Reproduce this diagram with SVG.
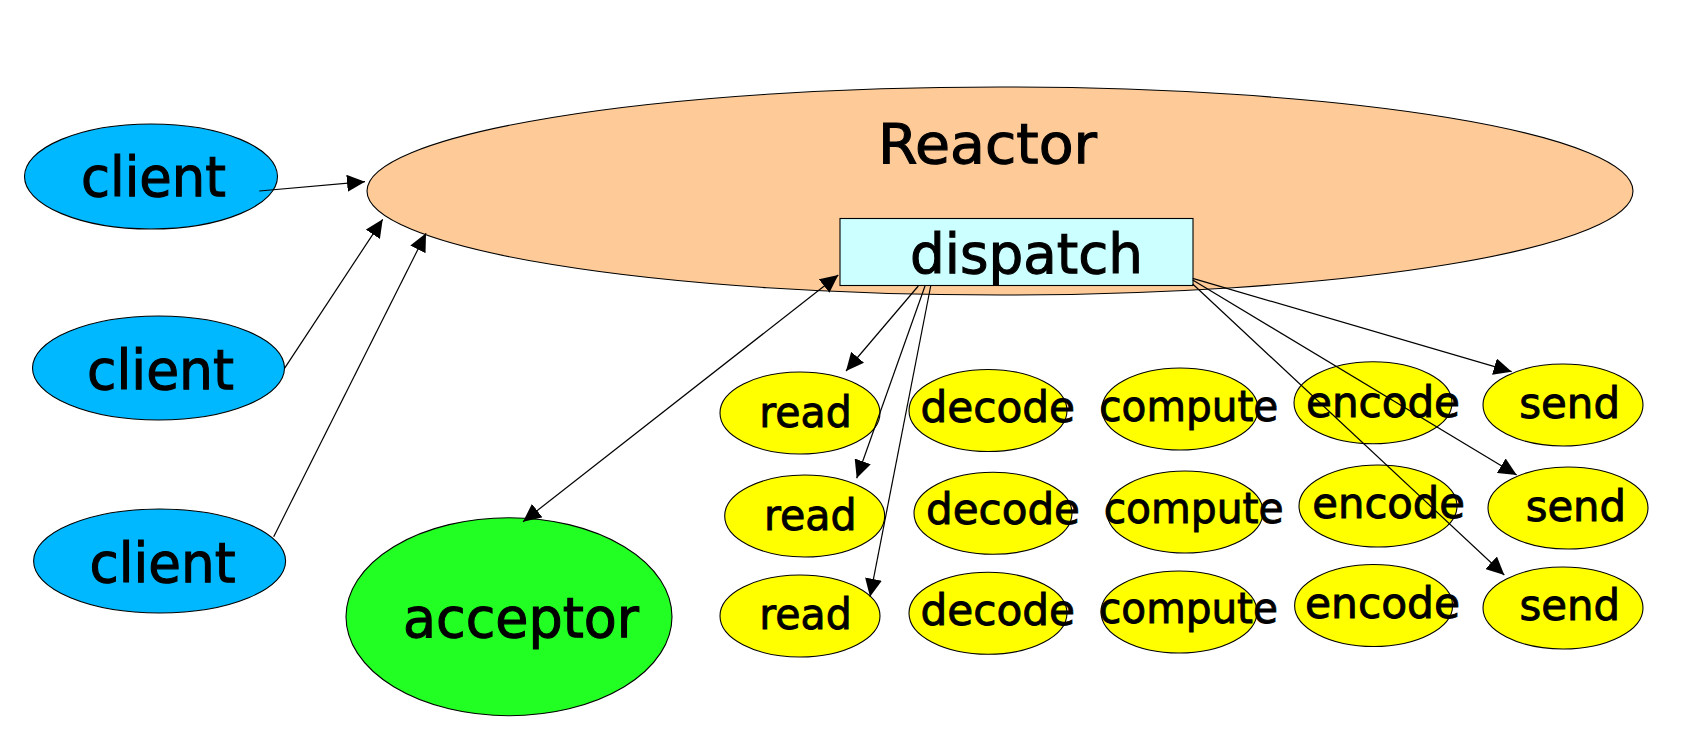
<svg xmlns="http://www.w3.org/2000/svg" width="1700" height="754" viewBox="0 0 1700 754">
<style>
.n{stroke:#000;stroke-width:1.1}
.client{fill:#00b8ff}
.reactor{fill:#fdca98}
.disp{fill:#ccffff}
.acc{fill:#22ff22}
.y{fill:#ffff00}
text{font-family:"DejaVu Sans","Liberation Sans",sans-serif;fill:#000;stroke:#000}
.big{font-size:56px;stroke-width:1.1}
.sm{font-size:42px;stroke-width:0.9}
.c line{stroke:#000;stroke-width:1.2;fill:none;marker-end:url(#ah)}
</style>
<defs>
<marker id="ah" viewBox="0 0 18 17" refX="18" refY="8.5" markerWidth="18" markerHeight="17" markerUnits="userSpaceOnUse" orient="auto-start-reverse">
<path d="M0,0 L18,8.5 L0,17 Z" fill="#000"/>
</marker>
</defs>
<rect width="1700" height="754" fill="#fff"/>
<g id="reactor">
<ellipse class="n reactor" cx="1000" cy="191" rx="633" ry="104"/>
<text class="big" x="878" y="163" textLength="219" lengthAdjust="spacingAndGlyphs">Reactor</text>
</g>
<g id="dispatch">
<rect class="n disp" x="840" y="218.5" width="353" height="67"/>
<text class="big" x="910" y="273" textLength="233" lengthAdjust="spacingAndGlyphs">dispatch</text>
</g>
<g id="client1">
<ellipse class="n client" cx="151" cy="176.5" rx="126.5" ry="52.5"/>
<text class="big" x="81" y="196" textLength="145" lengthAdjust="spacingAndGlyphs">client</text>
</g>
<g id="client2">
<ellipse class="n client" cx="158.5" cy="368" rx="126" ry="52"/>
<text class="big" x="87" y="389" textLength="147" lengthAdjust="spacingAndGlyphs">client</text>
</g>
<g id="client3">
<ellipse class="n client" cx="159.6" cy="561" rx="126" ry="52"/>
<text class="big" x="89.5" y="582" textLength="146" lengthAdjust="spacingAndGlyphs">client</text>
</g>
<g id="acceptor">
<ellipse class="n acc" cx="509" cy="616.7" rx="163" ry="99"/>
<text class="big" x="403" y="637" textLength="236" lengthAdjust="spacingAndGlyphs">acceptor</text>
</g>
<g id="read1"><ellipse class="n y" cx="800" cy="413" rx="80" ry="41"/><text class="sm" x="759.3" y="426.7" textLength="92.4" lengthAdjust="spacingAndGlyphs">read</text></g>
<g id="read2"><ellipse class="n y" cx="804.7" cy="516" rx="80" ry="41"/><text class="sm" x="764" y="530" textLength="92.7" lengthAdjust="spacingAndGlyphs">read</text></g>
<g id="read3"><ellipse class="n y" cx="800" cy="616" rx="80" ry="41"/><text class="sm" x="759.3" y="629.3" textLength="92.4" lengthAdjust="spacingAndGlyphs">read</text></g>
<g id="decode1"><ellipse class="n y" cx="988" cy="410.5" rx="79" ry="41"/><text class="sm" x="920.5" y="421.7" textLength="154.5" lengthAdjust="spacingAndGlyphs">decode</text></g>
<g id="decode2"><ellipse class="n y" cx="993" cy="513.3" rx="79" ry="41"/><text class="sm" x="926" y="524" textLength="154" lengthAdjust="spacingAndGlyphs">decode</text></g>
<g id="decode3"><ellipse class="n y" cx="988" cy="613.3" rx="79" ry="41"/><text class="sm" x="920.5" y="625" textLength="154.5" lengthAdjust="spacingAndGlyphs">decode</text></g>
<g id="compute1"><ellipse class="n y" cx="1180" cy="409" rx="78" ry="41"/><text class="sm" x="1099.3" y="421" textLength="179" lengthAdjust="spacingAndGlyphs">compute</text></g>
<g id="compute2"><ellipse class="n y" cx="1185" cy="512" rx="78" ry="41"/><text class="sm" x="1103.7" y="522.7" textLength="180" lengthAdjust="spacingAndGlyphs">compute</text></g>
<g id="compute3"><ellipse class="n y" cx="1179" cy="612" rx="78" ry="41"/><text class="sm" x="1099" y="623" textLength="179" lengthAdjust="spacingAndGlyphs">compute</text></g>
<g id="encode1"><ellipse class="n y" cx="1373" cy="402.8" rx="79" ry="41"/><text class="sm" x="1306" y="416.7" textLength="154" lengthAdjust="spacingAndGlyphs">encode</text></g>
<g id="encode2"><ellipse class="n y" cx="1378" cy="506" rx="79" ry="41"/><text class="sm" x="1312.3" y="518.3" textLength="152.7" lengthAdjust="spacingAndGlyphs">encode</text></g>
<g id="encode3"><ellipse class="n y" cx="1373.6" cy="605.5" rx="79" ry="41"/><text class="sm" x="1305" y="618.3" textLength="155" lengthAdjust="spacingAndGlyphs">encode</text></g>
<g id="send1"><ellipse class="n y" cx="1563" cy="405" rx="80" ry="41"/><text class="sm" x="1519.3" y="417.7" textLength="100.7" lengthAdjust="spacingAndGlyphs">send</text></g>
<g id="send2"><ellipse class="n y" cx="1568" cy="508" rx="80" ry="41"/><text class="sm" x="1525.7" y="521" textLength="100.3" lengthAdjust="spacingAndGlyphs">send</text></g>
<g id="send3"><ellipse class="n y" cx="1563" cy="608" rx="80" ry="41"/><text class="sm" x="1519.5" y="620" textLength="100.5" lengthAdjust="spacingAndGlyphs">send</text></g>
<g id="connectors" class="c">
<line x1="259.3" y1="191" x2="365" y2="181.7"/>
<line x1="284.5" y1="368.3" x2="382.7" y2="219.3"/>
<line x1="273.7" y1="536.7" x2="426" y2="233.3"/>
<line x1="523" y1="521.7" x2="838.3" y2="275" style="marker-start:url(#ah)"/>
<line x1="918.3" y1="286" x2="846" y2="371"/>
<line x1="925" y1="286" x2="856.7" y2="478.3"/>
<line x1="930.7" y1="286" x2="870" y2="596.7"/>
<line x1="1192.7" y1="278.3" x2="1511.7" y2="371.7"/>
<line x1="1192.7" y1="280" x2="1516.7" y2="475"/>
<line x1="1192.7" y1="284" x2="1504.3" y2="575"/>
</g>
</svg>
